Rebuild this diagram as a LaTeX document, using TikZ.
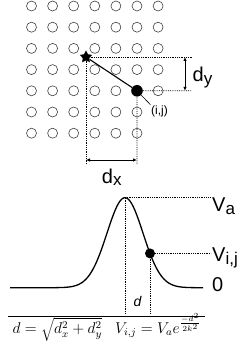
\documentclass[tikz,border=0pt]{standalone}
\usepackage{graphicx}
\usepackage{fontspec}
\setsansfont{Liberation Sans}
\usetikzlibrary{shapes.geometric,arrows.meta}
\newcommand\lowsub[1]{\raisebox{-2.5pt}{\fontsize{17}{17}\selectfont #1}}

\begin{document}
\begin{tikzpicture}[x=1pt, y=-1pt,
  every node/.style={font=\sffamily\fontsize{20}{24}\selectfont, inner sep=0pt},
  cell/.style={circle, draw=black!75, line width=0.6pt, minimum size=10pt},
  guide/.style={densely dotted, line width=0.8pt},
  dim/.style={{Latex[length=4pt,width=3.5pt]}-{Latex[length=4pt,width=3.5pt]}, line width=0.8pt}]
  \useasboundingbox (0,0) rectangle (240,352);

  \foreach \j/\n in {0/6,1/6,2/6,3/6,4/6,5/5,6/5}
    \foreach \i in {0,...,\n}
      \node[cell] (c-\i-\j) at ({31.5+21.1*\i}, {6+21.2*\j}) {};
  \node[circle, fill, minimum size=11.6pt] (ij) at (c-5-4) {};
  \node[star, star points=5, star point ratio=1.9, fill, minimum size=13pt] (src) at (86,57) {};

  \coordinate (yT) at (191.7,57);
  \coordinate (yB) at (191.7,90.8);
  \coordinate (xL) at (86,165);
  \coordinate (xR) at (137,165);
  \draw[line width=1.1pt] (src) -- (ij);
  \draw[guide] (src) -- (yT);
  \draw[guide] (src) -- (xL);
  \draw[guide] (ij) -- (yB);
  \draw[guide] (ij) -- (xR);
  \draw[dim] ([xshift=-6.7pt]yT) -- ([xshift=-6.7pt]yB);
  \draw[dim] ([yshift=5pt]xL) -- ([yshift=5pt]xR);
  \node[anchor=base west] (dylab) at (192.5,81.7) {d\lowsub{y}};
  \node[anchor=base west] (dxlab) at (101.7,183) {d\lowsub{x}};
  \node[font=\sffamily\fontsize{12}{14}\selectfont, inner sep=0.5pt] (ijlab) at (159.5,111) {(i,j)};
  \draw[line width=0.6pt] (ij) -- (ijlab.north west);

  \coordinate (peak) at (125,197.7);
  \draw[line width=1.3pt] plot[domain=10:203, samples=150] (\x, {287.7-90*exp(0-((\x-125)^2)/648)});
  \node[circle, fill, minimum size=10pt] (vij) at (150,253.4) {};
  \coordinate (vaEnd) at (211,197.7);
  \coordinate (vijEnd) at (211,253.4);
  \coordinate (pkFoot) at (125,313);
  \coordinate (dFoot) at (150,313);
  \draw[guide] (peak) -- (vaEnd);
  \draw[guide] (peak) -- (pkFoot);
  \draw[guide] (vij) -- (vijEnd);
  \draw[guide] (vij) -- (dFoot);
  \node[anchor=base west] (va) at (212,211.7) {V\lowsub{a}};
  \node[anchor=base west] (vijlab) at (212,261.7) {V\lowsub{i,j}};
  \node[anchor=base west] (zero) at (212,291) {0};
  \node[font=\sffamily\itshape\fontsize{14}{16}\selectfont, anchor=base] (dlab) at (137.5,306.7) {d};

  \coordinate (ruleL) at (8,316.5);
  \coordinate (ruleR) at (205,316.5);
  \draw[line width=1.2pt] (ruleL) -- (ruleR);
  \node[font=\fontsize{12}{14}\selectfont, anchor=base] (eq) at (107,333.3)
    {\scalebox{1.3}{$d=\sqrt{d_x^2+d_y^2}\;\;\; V_{i,j}=V_a e^{\frac{-d^2}{2k^2}}$}};
\end{tikzpicture}
\end{document}
